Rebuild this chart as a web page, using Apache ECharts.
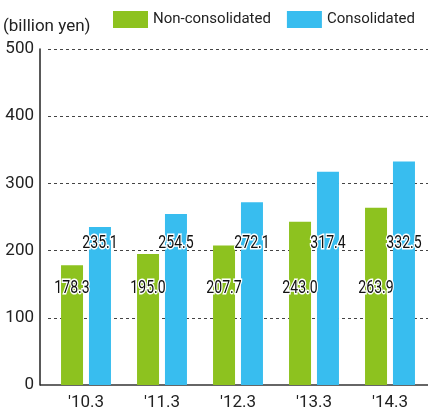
<!DOCTYPE html>
<html><head><meta charset="utf-8">
<script src="https://cdn.jsdelivr.net/npm/echarts@6/dist/echarts.min.js"></script>
<style>html,body{margin:0;padding:0;background:#fff}#c{width:428px;height:414px}</style>
</head><body><div id="c"></div>
<script>
const categories = ["'10.3", "'11.3", "'12.3", "'13.3", "'14.3"];
const nonConsolidated = [178.3, 195.0, 207.7, 243.0, 263.9];
const consolidated = [235.1, 254.5, 272.1, 317.4, 332.5];
const yTicks = [0, 100, 200, 300, 400, 500];

const font = "Roboto, sans-serif";
const chart = echarts.init(document.getElementById('c'));

function labelSeries(values, dx, dy) {
  return {
    type: 'custom', silent: true, z: 10,
    data: values.map((v, i) => [i, v]),
    renderItem: (params, api) => {
      const p = api.coord([api.value(0), 0]);
      return {
        type: 'text', x: p[0] + dx, y: p[1] + dy, scaleX: 0.74,
        style: {
          text: api.value(1).toFixed(1), fill: '#111', stroke: '#fff', lineWidth: 3,
          fontSize: 19, fontFamily: font, align: 'center', verticalAlign: 'middle'
        }
      };
    }
  };
}

chart.setOption({
  animation: false,
  grid: { left: 48, top: 49, width: 383, bottom: 29 },
  legend: {
    top: 6, left: 108, width: 320, itemWidth: 35, itemHeight: 17, itemGap: 16, orient: 'horizontal',
    textStyle: { fontSize: 15, color: '#222', fontFamily: font },
    data: ['Non-consolidated', 'Consolidated'], icon: 'rect'
  },
  graphic: [
    { type: 'text', left: 3, top: 18, style: { text: '(billion yen)', fontSize: 17, fill: '#222', fontFamily: font } },
    { type: 'line', shape: { x1: 40, y1: 385, x2: 49, y2: 385 }, style: { stroke: '#666', lineWidth: 2 } }
  ],
  xAxis: {
    type: 'category', data: categories,
    axisLine: { lineStyle: { color: '#666', width: 2 } },
    axisTick: { show: false },
    axisLabel: { fontFamily: font, fontSize: 17, color: '#222', margin: 9 }
  },
  yAxis: {
    type: 'value', min: 0, max: 500, interval: 100, offset: 8,
    axisLine: { show: true, lineStyle: { color: '#222', width: 1.5 } },
    axisTick: { show: false },
    axisLabel: { fontFamily: font, fontSize: 17, color: '#222', margin: 6,
      formatter: v => yTicks.includes(v) ? String(v) : '' },
    splitLine: { lineStyle: { color: '#444', type: [3, 3], width: 1 } }
  },
  series: [
    { name: 'Non-consolidated', type: 'bar', data: nonConsolidated, barWidth: 22, barGap: '27%',
      itemStyle: { color: '#8DC21F' } },
    { name: 'Consolidated', type: 'bar', data: consolidated, barWidth: 22,
      itemStyle: { color: '#38BDEF' } },
    labelSeries(nonConsolidated, -14, -97),
    labelSeries(consolidated, 14, -142)
  ]
});
</script></body></html>
